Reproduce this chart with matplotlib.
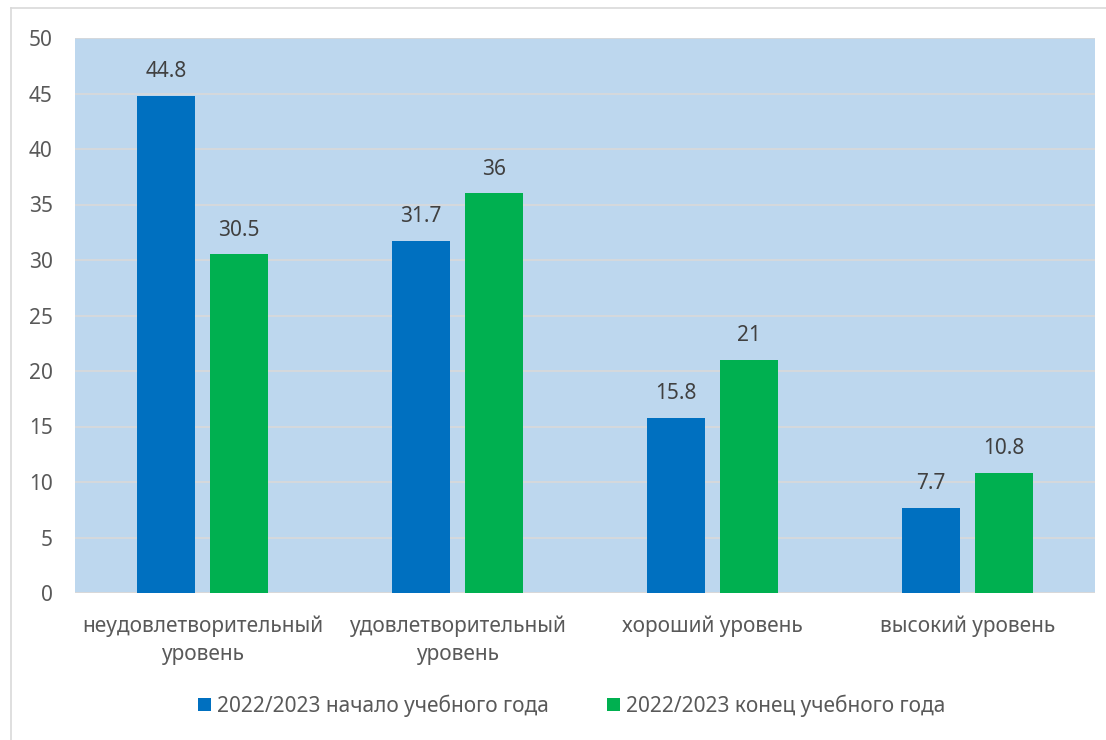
import matplotlib
matplotlib.use("Agg")
import matplotlib.pyplot as plt
import numpy as np

categories = ["неудовлетворительный\nуровень", "удовлетворительный\nуровень", "хороший уровень", "высокий уровень"]
start_vals = [44.8, 31.7, 15.8, 7.7]
end_vals = [30.5, 36, 21, 10.8]
series_names = ["2022/2023 начало учебного года", "2022/2023 конец учебного года"]
yticks = [0, 5, 10, 15, 20, 25, 30, 35, 40, 45, 50]

plt.rcParams['font.family'] = ['Noto Sans', 'DejaVu Sans']
txt = "#595959"
fs = 15

fig = plt.figure(figsize=(11.06, 7.40), dpi=100)
ax = fig.add_axes([75/1106, 1-593/740, (1095-75)/1106, (593-38)/740])
ax.set_facecolor("#BDD7EE")

x = np.arange(len(categories))
w = 0.224
off = 0.143
b1 = ax.bar(x - off, start_vals, w, color="#0070C0", label=series_names[0], zorder=3)
b2 = ax.bar(x + off, end_vals, w, color="#00B050", label=series_names[1], zorder=3)

for bars, vals in ((b1, start_vals), (b2, end_vals)):
    for r, v in zip(bars, vals):
        ax.annotate(f"{v:g}", (r.get_x() + r.get_width()/2, v), xytext=(0, 10),
                    textcoords="offset points", ha="center", va="bottom",
                    fontsize=fs, color="#404040")

ax.set_xlim(-0.5, len(categories) - 0.5)
ax.set_ylim(0, 50)
ax.set_yticks(yticks)
ax.set_xticks(x)
ax.set_xticklabels(categories, linespacing=1.45)
ax.yaxis.grid(True, color="#D9D9D9", linewidth=1.2, zorder=0)
ax.set_axisbelow(True)
for s in ax.spines.values():
    s.set_visible(False)
ax.tick_params(axis="both", length=0, labelsize=fs, labelcolor=txt)
ax.tick_params(axis="y", pad=16)
ax.tick_params(axis="x", pad=16)
ax.axhline(0, color="#D9D9D9", linewidth=1.2, zorder=2)

leg = fig.legend(handles=[b1, b2], loc="center", bbox_to_anchor=(572/1106, 1-706/740), ncol=2,
                 frameon=False, fontsize=fs, handlelength=0.6, handleheight=0.6,
                 handletextpad=0.3, columnspacing=2.8)
for t in leg.get_texts():
    t.set_color(txt)

# outer chart border (top and left)
fig.add_artist(plt.Line2D([11/1106, 1], [1-8/740, 1-8/740], color="#D9D9D9", linewidth=1.2, transform=fig.transFigure))
fig.add_artist(plt.Line2D([11/1106, 11/1106], [0, 1-8/740], color="#D9D9D9", linewidth=1.2, transform=fig.transFigure))

fig.savefig("out.png", dpi=100, facecolor="white")
